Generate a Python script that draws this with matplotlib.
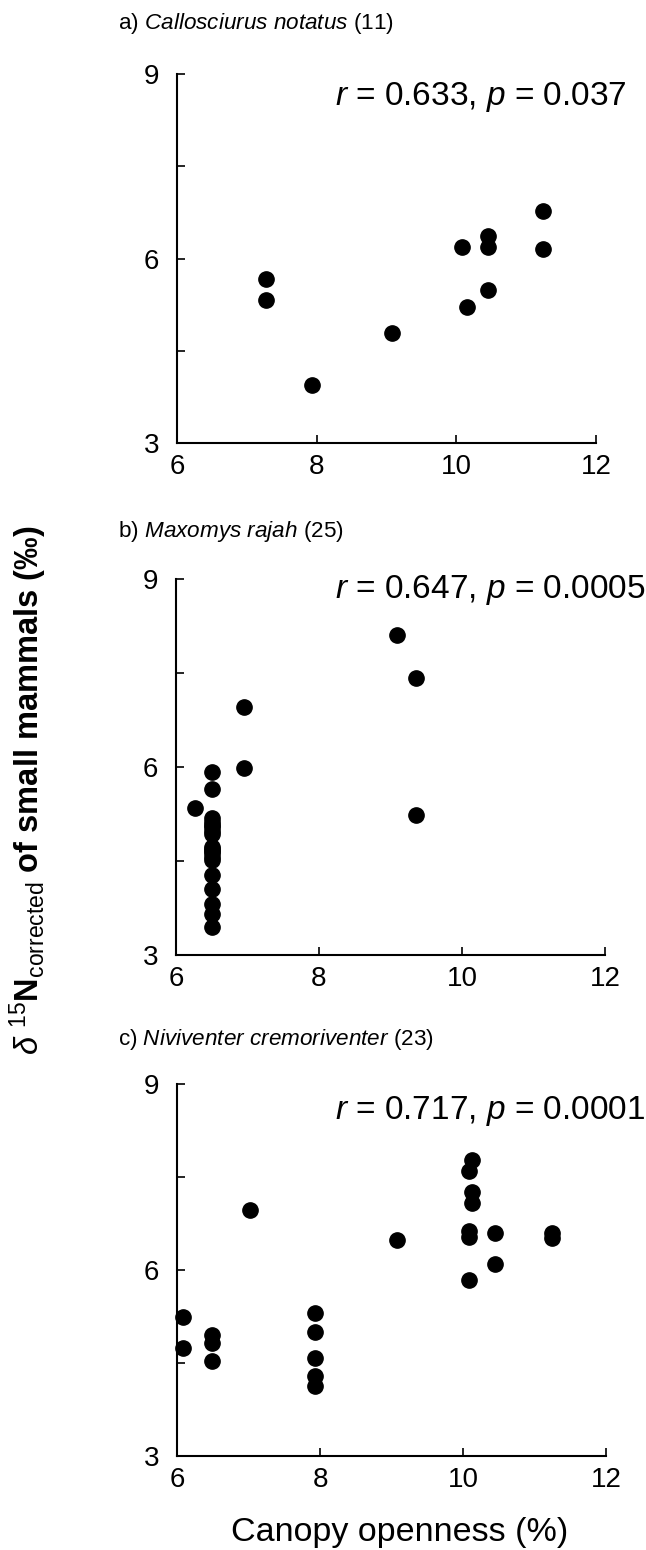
import matplotlib
matplotlib.use("Agg")
import matplotlib.pyplot as plt

plt.rcParams['font.family'] = ['Liberation Sans', 'DejaVu Sans']
plt.rcParams['mathtext.fontset'] = 'custom'
plt.rcParams['mathtext.rm'] = 'Liberation Sans'
plt.rcParams['mathtext.it'] = 'Liberation Sans:italic'
plt.rcParams['mathtext.bf'] = 'Liberation Sans:bold'

# ---- data ----
a_x = [7.28, 7.28, 7.94, 9.08, 10.08, 10.15, 10.45, 10.45, 10.45, 11.24, 11.24]
a_y = [5.66, 5.32, 3.95, 4.79, 6.18, 5.21, 6.37, 6.18, 5.49, 6.78, 6.15]

b_x = [9.09, 9.35, 6.95, 6.95, 9.35, 6.26,
       6.50, 6.50, 6.50, 6.50, 6.50, 6.50, 6.50, 6.50, 6.50, 6.50,
       6.50, 6.50, 6.50, 6.50, 6.50, 6.50, 6.50, 6.50, 6.50]
b_y = [8.11, 7.42, 6.95, 5.99, 5.24, 5.34,
       5.92, 5.65, 5.18, 5.12, 5.08, 5.04, 4.98, 4.93, 4.72, 4.69,
       4.66, 4.62, 4.57, 4.52, 4.28, 4.05, 3.82, 3.65, 3.44]

c_x = [6.08, 6.08, 6.49, 6.49, 6.49, 7.02, 7.93, 7.93, 7.93, 7.93, 7.93,
       9.07, 10.09, 10.08, 10.08, 10.08, 10.13, 10.13, 10.13, 10.45, 10.45,
       11.24, 11.24]
c_y = [5.24, 4.75, 4.95, 4.83, 4.53, 6.97, 5.30, 5.00, 4.58, 4.29, 4.13,
       6.49, 7.59, 5.84, 6.63, 6.53, 7.77, 7.26, 7.08, 6.60, 6.10,
       6.59, 6.51]

titles = [r"a) $\it{Callosciurus\ notatus}$ (11)",
          r"b) $\it{Maxomys\ rajah}$ (25)",
          r"c) $\it{Niviventer\ cremoriventer}$ (23)"]
stats = [r"$\it{r}$ = 0.633, $\it{p}$ = 0.037",
         r"$\it{r}$ = 0.647, $\it{p}$ = 0.0005",
         r"$\it{r}$ = 0.717, $\it{p}$ = 0.0001"]
x_ticks = [6, 8, 10, 12]
y_ticks = [3, 4.5, 6, 7.5, 9]
y_ticklabels = ["3", "", "6", "", "9"]

W, H = 646, 1550
fig = plt.figure(figsize=(W / 100, H / 100), dpi=100)

# axes boxes in pixels: left, right, top, bottom
boxes = [(177, 596, 74, 443), (176, 605, 579, 955), (177, 606, 1084, 1456)]
title_y = [23, 532, 1039]
stat_y = [97, 590, 1111]
data = [(a_x, a_y), (b_x, b_y), (c_x, c_y)]

for i, ((l, r, t, b), (xs, ys)) in enumerate(zip(boxes, data)):
    ax = fig.add_axes([l / W, 1 - b / H, (r - l) / W, (b - t) / H])
    ax.plot(xs, ys, 'o', color='black', ms=11, mec='black', clip_on=False)
    ax.set_xlim(6, 12)
    ax.set_ylim(3, 9)
    ax.set_xticks(x_ticks)
    ax.set_yticks(y_ticks)
    ax.set_yticklabels(y_ticklabels)
    for s in ['top', 'right']:
        ax.spines[s].set_visible(False)
    for s in ['left', 'bottom']:
        ax.spines[s].set_linewidth(1.5)
    ax.tick_params(direction='in', length=6, width=1.2, labelsize=20, colors='black')
    ax.tick_params(axis='y', pad=13)
    ax.tick_params(axis='x', pad=8)
    fig.text(118 / W, 1 - title_y[i] / H, titles[i], fontsize=16.2, ha='left', va='center')
    fig.text(335 / W, 1 - stat_y[i] / H, stats[i], fontsize=24, ha='left', va='center')

fig.text(28 / W, 1 - 790 / H,
         r"$\delta$ $^{15}$N$_{\rm corrected}$ of small mammals (‰)",
         rotation=90, ha='center', va='center', fontsize=23.5, fontweight='bold')
fig.text(400 / W, 1 - 1533 / H, "Canopy openness (%)", fontsize=24.5, ha='center', va='center')

fig.savefig("out.png", dpi=100)
